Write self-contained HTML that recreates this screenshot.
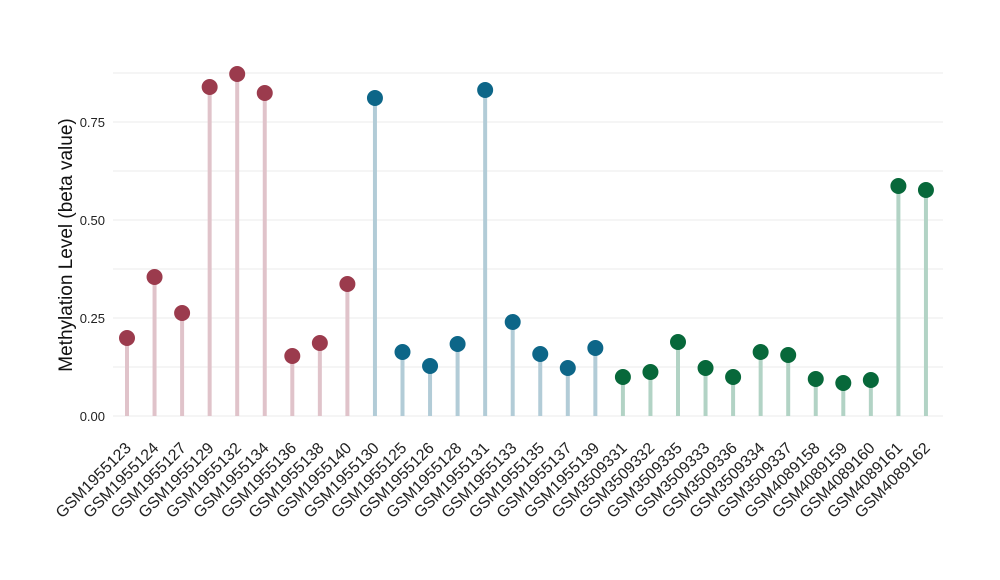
<!DOCTYPE html>
<html><head><meta charset="utf-8"><style>body{margin:0;background:#fff}svg{display:block}text{font-family:"Liberation Sans",sans-serif}</style></head>
<body>
<svg width="1000" height="580" xmlns="http://www.w3.org/2000/svg">
<g stroke="#ebebeb" stroke-width="1">
<line x1="113" x2="943" y1="73" y2="73"/><line x1="113" x2="943" y1="122" y2="122"/>
<line x1="113" x2="943" y1="171" y2="171"/><line x1="113" x2="943" y1="220" y2="220"/>
<line x1="113" x2="943" y1="269" y2="269"/><line x1="113" x2="943" y1="318" y2="318"/>
<line x1="113" x2="943" y1="367" y2="367"/><line x1="113" x2="943" y1="416" y2="416"/>
</g>
<g font-size="13" fill="#222" text-anchor="end">
<text x="105" y="421">0.00</text><text x="105" y="323">0.25</text>
<text x="105" y="225">0.50</text><text x="105" y="127">0.75</text>
</g>
<text transform="translate(72,245) rotate(-90)" text-anchor="middle" font-size="19" fill="#111">Methylation Level (beta value)</text>
<g id="pts"></g>
<g id="lbl" font-size="16" fill="#222" text-anchor="end"></g>
<script>
var ys=[338,277,313,87,74,93,356,343,284,98,352,366,344,90,322,354,368,348,377,372,342,368,377,352,355,379,383,380,186,190];
var names=["GSM1955123","GSM1955124","GSM1955127","GSM1955129","GSM1955132","GSM1955134","GSM1955136","GSM1955138","GSM1955140","GSM1955130","GSM1955125","GSM1955126","GSM1955128","GSM1955131","GSM1955133","GSM1955135","GSM1955137","GSM1955139","GSM3509331","GSM3509332","GSM3509335","GSM3509333","GSM3509336","GSM3509334","GSM3509337","GSM4089158","GSM4089159","GSM4089160","GSM4089161","GSM4089162"];
var ns="http://www.w3.org/2000/svg",g=document.getElementById("pts"),l=document.getElementById("lbl");
for(var i=0;i<30;i++){var x=127+i*27.55;var c,s;
if(i<9){c="#9b3b4d";s="#e0c3ca"}else if(i<18){c="#0d6688";s="#b2ccd7"}else{c="#07683a";s="#b2d3c5"}
var ln=document.createElementNS(ns,"line");ln.setAttribute("x1",x);ln.setAttribute("x2",x);ln.setAttribute("y1",416);ln.setAttribute("y2",ys[i]);ln.setAttribute("stroke",s);ln.setAttribute("stroke-width",4);g.appendChild(ln);
var ci=document.createElementNS(ns,"circle");ci.setAttribute("cx",x);ci.setAttribute("cy",ys[i]);ci.setAttribute("r",8);ci.setAttribute("fill",c);g.appendChild(ci);
var t=document.createElementNS(ns,"text");t.setAttribute("transform","translate("+(x+5)+",449) rotate(-45)");t.textContent=names[i];l.appendChild(t);}
</script>
</svg>
</body></html>
